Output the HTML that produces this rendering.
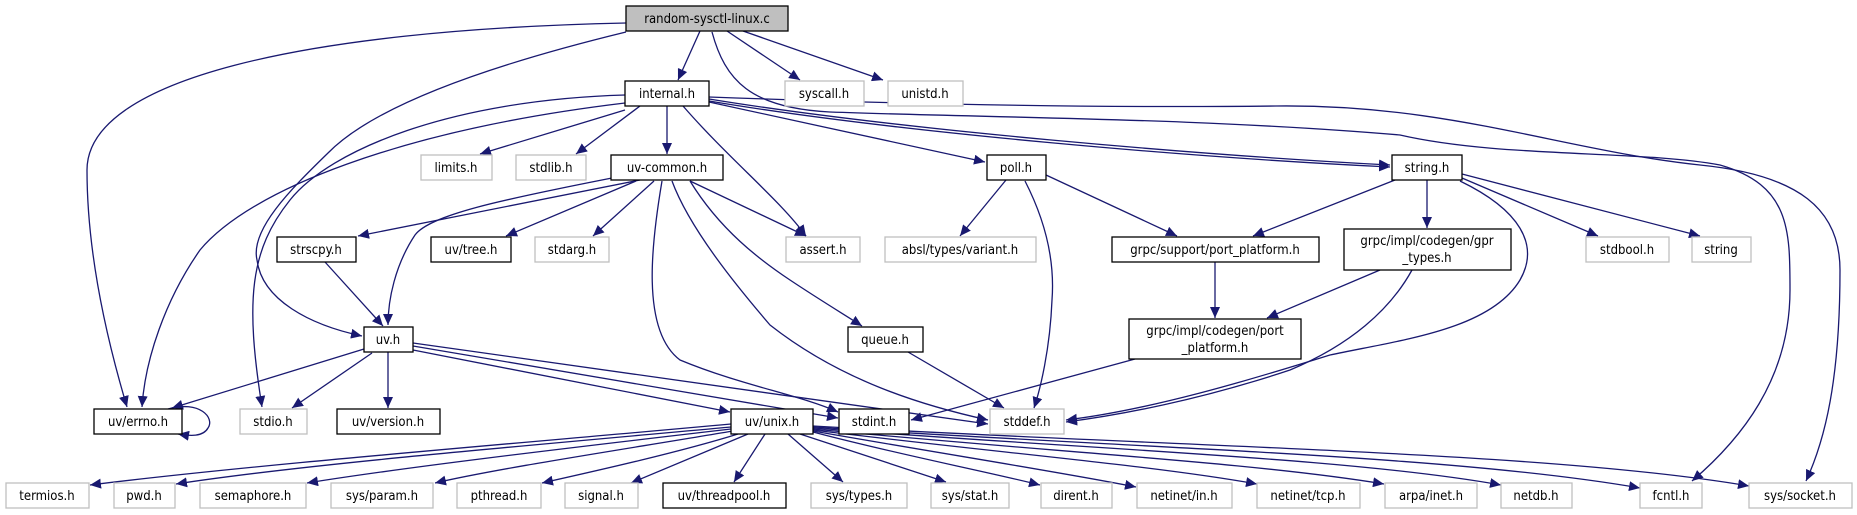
<!DOCTYPE html>
<html><head><meta charset="utf-8"><style>
html,body{margin:0;padding:0;background:#fff;}
svg{display:block;}
text{font-family:"DejaVu Sans Condensed","DejaVu Sans","Liberation Sans",sans-serif;font-size:13px;fill:#000;text-anchor:middle;}
.b{fill:#fff;stroke:#000;stroke-width:1.3;}
.g{fill:#fff;stroke:#bfbfbf;stroke-width:1.3;}
.r{fill:#bfbfbf;stroke:#000;stroke-width:1.3;}
.e{fill:none;stroke:#191970;stroke-width:1.3;marker-end:url(#a);}
</style></head><body>
<svg width="1857" height="515" viewBox="0 0 1857 515" xmlns="http://www.w3.org/2000/svg">
<defs><marker id="a" markerUnits="userSpaceOnUse" markerWidth="12" markerHeight="10" refX="11" refY="5" orient="auto"><path d="M0,0 L11,5 L0,10 z" fill="#191970"/></marker></defs>
<g>
<path class="e" d="M700,31 L678,80"/>
<path class="e" d="M727,31 L800,80"/>
<path class="e" d="M743,31 L883,80"/>
<path class="e" d="M626,23 C300,30 87,80 87,170 C87,260 110,350 127,407"/>
<path class="e" d="M626,32 C470,70 370,110 328,153 C290,190 250,230 257,260 C262,300 310,325 362,336"/>
<path class="e" d="M712,32 C725,80 750,108 830,112 C1000,118 1200,118 1400,135 C1500,158 1640,150 1720,165 C1790,185 1790,230 1790,290 C1790,380 1740,440 1692,481"/>
<path class="e" d="M625,103 C400,130 250,190 200,250 C165,300 145,360 142,407"/>
<path class="e" d="M625,95 C450,100 330,150 290,200 C250,250 245,300 262,407"/>
<path class="e" d="M625,110 L480,154"/>
<path class="e" d="M640,106 L576,154"/>
<path class="e" d="M667,106 L667,154"/>
<path class="e" d="M683,106 C730,160 780,200 806,236"/>
<path class="e" d="M709,102 L985,162"/>
<path class="e" d="M709,99 C900,130 1200,155 1390,165"/>
<path class="e" d="M709,101 C900,133 1200,158 1390,167"/>
<path class="e" d="M709,97 C900,104 1100,108 1276,106 C1450,104 1560,150 1700,165 C1800,175 1840,210 1840,270 C1840,380 1825,440 1806,481"/>
<path class="e" d="M640,180 L358,236"/>
<path class="e" d="M636,181 L506,236"/>
<path class="e" d="M654,181 L593,236"/>
<path class="e" d="M690,181 L806,236"/>
<path class="e" d="M612,178 C500,200 430,215 415,235 C395,265 388,300 388,325"/>
<path class="e" d="M662,181 C652,240 640,330 680,360 C740,385 800,395 838,412"/>
<path class="e" d="M672,181 C690,230 740,290 770,325 C840,380 920,405 988,420"/>
<path class="e" d="M690,181 C720,230 760,260 790,280 C820,300 845,315 862,326"/>
<path class="e" d="M325,262 L383,326"/>
<path class="e" d="M364,349 L172,408"/>
<path class="e" d="M372,353 L292,408"/>
<path class="e" d="M388,352 L388,408"/>
<path class="e" d="M413,350 L730,412"/>
<path class="e" d="M413,346 L838,418"/>
<path class="e" d="M413,343 L988,424"/>
<path class="e" d="M1006,180 L960,236"/>
<path class="e" d="M1046,175 L1177,236"/>
<path class="e" d="M1025,181 C1045,220 1055,260 1052,300 C1050,350 1040,390 1034,408"/>
<path class="e" d="M1395,180 L1253,236"/>
<path class="e" d="M1427,180 L1427,228"/>
<path class="e" d="M1462,178 L1598,236"/>
<path class="e" d="M1462,174 L1700,236"/>
<path class="e" d="M1460,181 C1520,210 1540,245 1520,280 C1490,330 1400,340 1330,355 C1250,380 1150,410 1066,420"/>
<path class="e" d="M1412,270 C1390,310 1350,345 1290,370 C1200,400 1120,415 1066,422"/>
<path class="e" d="M1380,270 L1267,318"/>
<path class="e" d="M1215,262 L1215,318"/>
<path class="e" d="M1135,359 L911,420"/>
<path class="e" d="M908,352 L1004,408"/>
<path class="e" d="M168,409 C200,400 215,418 208,428 C203,437 190,436 178,434"/>
<path class="e" d="M731,424 C500,445 250,465 90,485"/>
<path class="e" d="M731,427 C500,448 300,465 176,484"/>
<path class="e" d="M731,429 C550,450 400,468 307,483"/>
<path class="e" d="M733,431 C620,450 500,468 435,483"/>
<path class="e" d="M738,434 C680,452 600,470 542,483"/>
<path class="e" d="M748,434 L631,483"/>
<path class="e" d="M765,434 L734,482"/>
<path class="e" d="M788,434 L843,482"/>
<path class="e" d="M800,434 L946,482"/>
<path class="e" d="M813,432 C900,455 980,470 1040,485"/>
<path class="e" d="M813,431 C950,455 1060,472 1136,487"/>
<path class="e" d="M813,430 C1000,453 1150,465 1257,484"/>
<path class="e" d="M813,429 C1050,452 1250,462 1384,484"/>
<path class="e" d="M813,428 C1100,450 1350,458 1501,485"/>
<path class="e" d="M813,427 C1150,449 1450,455 1640,488"/>
<path class="e" d="M813,426 C1200,448 1550,452 1749,486"/>
</g>
<g>
<rect class="r" x="626" y="6" width="162" height="25"/><text x="707" y="23">random-sysctl-linux.c</text>
<rect class="b" x="625" y="81" width="84" height="25"/><text x="667" y="98">internal.h</text>
<rect class="g" x="785" y="81" width="79" height="25"/><text x="824" y="98">syscall.h</text>
<rect class="g" x="888" y="81" width="75" height="25"/><text x="925" y="98">unistd.h</text>
<rect class="g" x="421" y="155" width="71" height="25"/><text x="456" y="172">limits.h</text>
<rect class="g" x="516" y="155" width="70" height="25"/><text x="551" y="172">stdlib.h</text>
<rect class="b" x="611" y="155" width="112" height="25"/><text x="667" y="172">uv-common.h</text>
<rect class="b" x="987" y="155" width="59" height="25"/><text x="1016" y="172">poll.h</text>
<rect class="b" x="1392" y="155" width="70" height="25"/><text x="1427" y="172">string.h</text>
<rect class="b" x="277" y="237" width="79" height="25"/><text x="316" y="254">strscpy.h</text>
<rect class="b" x="431" y="237" width="80" height="25"/><text x="471" y="254">uv/tree.h</text>
<rect class="g" x="535" y="237" width="74" height="25"/><text x="572" y="254">stdarg.h</text>
<rect class="g" x="786" y="237" width="74" height="25"/><text x="823" y="254">assert.h</text>
<rect class="g" x="885" y="237" width="151" height="25"/><text x="960" y="254">absl/types/variant.h</text>
<rect class="b" x="1112" y="237" width="207" height="25"/><text x="1215" y="254">grpc/support/port_platform.h</text>
<rect class="b" x="1344" y="229" width="167" height="41"/><text x="1427" y="245">grpc/impl/codegen/gpr</text><text x="1427" y="262">_types.h</text>
<rect class="g" x="1586" y="237" width="83" height="25"/><text x="1627" y="254">stdbool.h</text>
<rect class="g" x="1692" y="237" width="59" height="25"/><text x="1721" y="254">string</text>
<rect class="b" x="364" y="327" width="49" height="25"/><text x="388" y="344">uv.h</text>
<rect class="b" x="848" y="327" width="75" height="25"/><text x="885" y="344">queue.h</text>
<rect class="b" x="1129" y="319" width="172" height="40"/><text x="1215" y="335">grpc/impl/codegen/port</text><text x="1215" y="352">_platform.h</text>
<rect class="b" x="94" y="409" width="88" height="25"/><text x="138" y="426">uv/errno.h</text>
<rect class="g" x="240" y="409" width="67" height="25"/><text x="273" y="426">stdio.h</text>
<rect class="b" x="337" y="409" width="103" height="25"/><text x="388" y="426">uv/version.h</text>
<rect class="b" x="731" y="409" width="82" height="25"/><text x="772" y="426">uv/unix.h</text>
<rect class="b" x="839" y="409" width="70" height="25"/><text x="874" y="426">stdint.h</text>
<rect class="g" x="990" y="409" width="74" height="25"/><text x="1027" y="426">stddef.h</text>
<rect class="g" x="6" y="483" width="83" height="25"/><text x="47" y="500">termios.h</text>
<rect class="g" x="114" y="483" width="61" height="25"/><text x="144" y="500">pwd.h</text>
<rect class="g" x="200" y="483" width="106" height="25"/><text x="253" y="500">semaphore.h</text>
<rect class="g" x="331" y="483" width="102" height="25"/><text x="382" y="500">sys/param.h</text>
<rect class="g" x="457" y="483" width="84" height="25"/><text x="499" y="500">pthread.h</text>
<rect class="g" x="565" y="483" width="73" height="25"/><text x="601" y="500">signal.h</text>
<rect class="b" x="663" y="483" width="123" height="25"/><text x="724" y="500">uv/threadpool.h</text>
<rect class="g" x="811" y="483" width="96" height="25"/><text x="859" y="500">sys/types.h</text>
<rect class="g" x="931" y="483" width="78" height="25"/><text x="970" y="500">sys/stat.h</text>
<rect class="g" x="1041" y="483" width="71" height="25"/><text x="1076" y="500">dirent.h</text>
<rect class="g" x="1137" y="483" width="95" height="25"/><text x="1184" y="500">netinet/in.h</text>
<rect class="g" x="1257" y="483" width="103" height="25"/><text x="1308" y="500">netinet/tcp.h</text>
<rect class="g" x="1385" y="483" width="92" height="25"/><text x="1431" y="500">arpa/inet.h</text>
<rect class="g" x="1501" y="483" width="71" height="25"/><text x="1536" y="500">netdb.h</text>
<rect class="g" x="1640" y="483" width="62" height="25"/><text x="1671" y="500">fcntl.h</text>
<rect class="g" x="1749" y="483" width="103" height="25"/><text x="1800" y="500">sys/socket.h</text>
</g>
</svg>
</body></html>
